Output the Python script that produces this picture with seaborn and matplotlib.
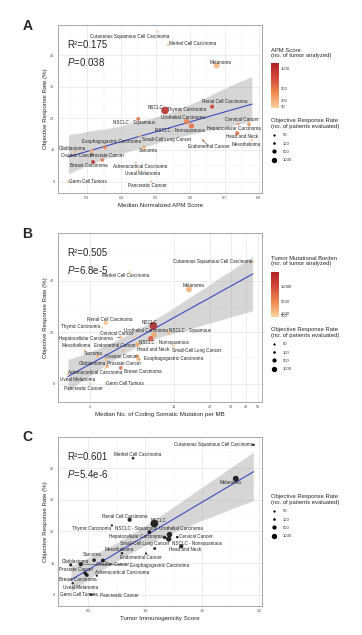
import numpy as np
import pandas as pd
import seaborn as sns
import matplotlib.pyplot as plt
from matplotlib.colors import LinearSegmentedColormap, Normalize
from matplotlib.cm import ScalarMappable
from matplotlib.lines import Line2D
from matplotlib.ticker import MultipleLocator, FixedLocator, NullLocator

# Data
cancers = ["Cutaneous Squamous Cell Carcinoma", "Merkel Cell Carcinoma", "Melanoma", "NSCLC",
           "Thymic Carcinoma", "Renal Cell Carcinoma", "Urothelial Carcinoma", "NSCLC - Squamous",
           "NSCLC - Nonsquamous", "Cervical Cancer", "Hepatocellular Carcinoma", "Head and Neck",
           "Mesothelioma", "Esophagogastric Carcinoma", "Small-Cell Lung Cancer", "Endometrial Cancer",
           "Sarcoma", "Glioblastoma", "Ovarian Cancer", "Prostate Cancer", "Breast Carcinoma",
           "Adrenocortical Carcinoma", "Uveal Melanoma", "Germ Cell Tumors", "Pancreatic Cancer"]
orr = [47.4, 43.2, 36.7, 22.5, 21.9, 23.7, 19.0, 19.8, 17.6, 18.2, 18.1, 15.3, 13.1,
       9.6, 14.6, 13.0, 10.9, 9.4, 10.8, 6.8, 6.2, 6.0, 3.6, 0.0, 0.0]
patients = [60, 100, 1300, 2500, 60, 500, 1100, 400, 1000, 100, 300, 500, 80,
            500, 150, 50, 300, 200, 400, 300, 350, 50, 60, 30, 50]
apm_score = [0.506, 0.536, 0.677, 0.527, 0.570, 0.664, 0.590, 0.449, 0.604, 0.740, 0.771, 0.737, 0.780,
             0.314, 0.454, 0.638, 0.466, 0.265, 0.352, 0.345, 0.318, 0.442, 0.449, 0.246, 0.488]
apm_tumors = [50, 60, 150, 1050, 120, 880, 420, 500, 520, 300, 370, 520, 87,
              180, 80, 550, 260, 160, 420, 500, 1100, 80, 80, 150, 180]
tmb = [45.3, 4.30, 13.3, 6.72, 2.50, 2.70, 6.81, 8.96, 6.40, 4.73, 3.60, 4.98, 1.79,
       5.05, 9.87, 3.78, 2.30, 2.71, 4.95, 2.78, 3.60, 2.65, 1.30, 2.71, 2.0]
tmb_tumors = [300, 200, 2500, 14000, 200, 1500, 3000, 1500, 9000, 800, 1000, 3000, 300,
              2000, 300, 2500, 1800, 1500, 2500, 3000, 7000, 300, 300, 400, 1500]
immuno = [1.95, 0.892, 1.794, 1.079, 0.706, 0.862, 1.212, 1.035, 1.205, 1.28, 1.17, 1.315, 0.795,
          0.433, 1.082, 1.006, 0.55, 0.345, 0.627, 0.471, 0.486, 0.574, 0.362, 0.53, 0.52]

# label placement (ggrepel-like, data coords)
labels_a = [(0.425, 46.0), (0.606, 43.7), (0.689, 37.6), (0.499, 23.5), (0.590, 22.9), (0.700, 25.2),
            (0.578, 20.2), (0.436, 18.6), (0.571, 16.3), (0.751, 19.5), (0.727, 16.9), (0.751, 14.2),
            (0.762, 11.8), (0.372, 12.8), (0.531, 13.4), (0.654, 11.2), (0.477, 9.7), (0.257, 10.5),
            (0.272, 8.4), (0.358, 8.1), (0.306, 5.0), (0.456, 4.9), (0.463, 2.5), (0.302, 0.0), (0.475, -1.1)]
labels_b = [(21.0, 47.4), (3.94, 41.9), (14.5, 38.0), (6.21, 23.8), (1.68, 22.2), (2.91, 25.1),
            (5.79, 20.9), (13.7, 20.7), (8.21, 16.2), (3.33, 19.6), (1.84, 17.7), (6.72, 13.2),
            (1.53, 14.9), (9.87, 9.7), (15.5, 12.9), (3.22, 14.9), (2.13, 11.9), (2.10, 7.8),
            (3.64, 10.6), (3.85, 7.8), (5.46, 5.0), (2.20, 4.4), (1.56, 1.8), (3.93, 0.0), (1.77, -1.7)]
labels_c = [(1.598, 47.5), (0.931, 44.4), (1.75, 35.6), (1.117, 23.5), (0.526, 20.9), (0.821, 24.8),
            (1.313, 20.9), (0.922, 20.9), (1.451, 16.3), (1.441, 18.5), (0.919, 18.5), (1.350, 14.2),
            (0.769, 14.2), (1.126, 9.3), (0.993, 16.3), (0.959, 11.9), (0.534, 12.8), (0.383, 10.5),
            (0.711, 9.5), (0.393, 7.9), (0.407, 4.8), (0.795, 7.0), (0.427, 2.4), (0.420, 0.1), (0.773, -0.4)]

df = pd.DataFrame({"cancer": cancers, "orr": orr, "patients": patients,
                   "apm": apm_score, "apm_n": apm_tumors,
                   "tmb": tmb, "tmb_n": tmb_tumors, "immuno": immuno})

sns.set_theme(style="white")
plt.rcParams["font.family"] = ["Liberation Sans", "DejaVu Sans"]
plt.rcParams["mathtext.fontset"] = "custom"
plt.rcParams["mathtext.rm"] = "Liberation Sans"
plt.rcParams["mathtext.it"] = "Liberation Sans:italic"

W, H = 362, 635
fig = plt.figure(figsize=(W / 100, H / 100), dpi=100)
fig.patch.set_facecolor("white")

cmap = LinearSegmentedColormap.from_list("apm", ["#FDD49E", "#EE8A50", "#D4493A", "#AE2323"])


def fx(px):
    return px / W


def fy(py):
    return 1 - py / H


def dot_size(n):
    # ggplot-like size scale: diameter (pt) grows with sqrt(n)
    return 1.0 + 0.09 * np.sqrt(n)


def draw_panel(ax, xcol, hue_col, vmax, logx, label_pos, seg_names, r2, pval, xlabel):
    if logx:
        ax.set_xscale("log")
    sns.regplot(data=df, x=xcol, y="orr", scatter=False, logx=logx, ci=95, seed=11,
                color="#999999", line_kws={"lw": 0.8}, ax=ax)
    ax.lines[-1].set_color("#3B4BC0")
    ax.collections[-1].set_alpha(0.4)

    pts = df.sort_values("patients", ascending=False)
    if hue_col is not None:
        sns.scatterplot(data=pts, x=xcol, y="orr", hue=hue_col, palette=cmap, hue_norm=(0, vmax),
                        s=dot_size(pts["patients"].values) ** 2, linewidth=0, alpha=0.88,
                        legend=False, ax=ax, zorder=3)
    else:
        sns.scatterplot(data=pts, x=xcol, y="orr", color="#111111",
                        s=dot_size(pts["patients"].values) ** 2, linewidth=0, alpha=0.9,
                        legend=False, ax=ax, zorder=3)

    for name, xv, yv, (lx, ly) in zip(df["cancer"], df[xcol], df["orr"], label_pos):
        if name in seg_names:
            ax.annotate(name, xy=(xv, yv), xytext=(lx, ly), ha="center", va="center",
                        fontsize=3.3, color="#222222", zorder=4,
                        arrowprops=dict(arrowstyle="-", lw=0.35, color="#333333",
                                        shrinkA=0.5, shrinkB=0.5))
        else:
            ax.text(lx, ly, name, ha="center", va="center", fontsize=3.3, color="#222222", zorder=4)

    ax.text(0.043, 0.88, "R\u00b2=" + r2, transform=ax.transAxes, fontsize=7, va="center", ha="left")
    ax.text(0.043, 0.78, "$P$=" + pval, transform=ax.transAxes, fontsize=7, va="center", ha="left")

    ax.set_xlabel(xlabel, fontsize=4.4, labelpad=1.5)
    ax.set_ylabel("Objective Response Rate (%)", fontsize=4.4, labelpad=1.5)
    ax.tick_params(which="major", labelsize=2.7, length=1.5, width=0.4, color="#555555",
                   labelcolor="#4D4D4D", pad=1)
    ax.tick_params(which="minor", length=0)
    ax.set_axisbelow(True)
    ax.grid(which="major", color="#E6E6E6", lw=0.5)
    ax.grid(which="minor", color="#F2F2F2", lw=0.3)
    for sp in ax.spines.values():
        sp.set_color("#9A9A9A")
        sp.set_linewidth(0.6)


def size_legend(top_px):
    handles = [Line2D([], [], marker="o", ls="", color="black", markeredgewidth=0,
                      markersize=dot_size(v)) for v in [50, 100, 500, 1000]]
    leg = fig.legend(handles, ["50", "100", "500", "1000"], loc="upper left",
                     bbox_to_anchor=(fx(271), fy(top_px)), borderaxespad=0, borderpad=0,
                     frameon=False, fontsize=3, title="Objective Response Rate\n(no. of patients evaluated)",
                     title_fontsize=4.2, alignment="left", labelspacing=1.05, handlelength=1.6,
                     handletextpad=1.2)
    return leg


def color_legend(top_px, bar_top, bar_bot, title, vmax, ticks):
    fig.text(fx(271), fy(top_px), title, fontsize=4.2, va="top", ha="left", linespacing=1.0)
    cax = fig.add_axes([fx(271), fy(bar_bot), fx(279) - fx(271), fy(bar_top) - fy(bar_bot)])
    sm = ScalarMappable(norm=Normalize(0, vmax), cmap=cmap)
    cb = fig.colorbar(sm, cax=cax, ticks=ticks)
    cb.outline.set_visible(False)
    cax.tick_params(labelsize=3, length=1.5, width=0.4, color="white", direction="in", pad=1.5)


# Panel A
ax_a = fig.add_axes([fx(58), fy(193), fx(262) - fx(58), fy(25) - fy(193)])
draw_panel(ax_a, "apm", "apm_n", 1130, False, labels_a, {"Endometrial Cancer"},
           "0.175", "0.038", "Median Normalized APM Score")
ax_a.set_xlim(0.216, 0.809)
ax_a.set_ylim(-3.6, 49.5)
ax_a.xaxis.set_major_locator(MultipleLocator(0.1))
ax_a.xaxis.set_minor_locator(MultipleLocator(0.05))
ax_a.yaxis.set_major_locator(MultipleLocator(10))
ax_a.yaxis.set_minor_locator(MultipleLocator(5))
color_legend(48.5, 63, 108, "APM Score\n(no. of tumor analyzed)", 1130, [50, 200, 500, 1000])
size_legend(118)

# Panel B
ax_b = fig.add_axes([fx(58), fy(402), fx(262) - fx(58), fy(233) - fy(402)])
draw_panel(ax_b, "tmb", "tmb_n", 14860, True, labels_b,
           {"Hepatocellular Carcinoma", "Esophagogastric Carcinoma", "NSCLC"},
           "0.505", "6.8e-5", "Median No. of Coding Somatic Mutation per MB")
ax_b.set_xlim(1.08, 54)
ax_b.set_ylim(-7.0, 58.5)
ax_b.xaxis.set_major_locator(FixedLocator([2, 10, 20, 30, 40, 50]))
ax_b.xaxis.set_minor_locator(NullLocator())
ax_b.set_xticklabels(["2", "10", "20", "30", "40", "50"])
ax_b.yaxis.set_major_locator(MultipleLocator(20))
ax_b.yaxis.set_minor_locator(MultipleLocator(10))
color_legend(256.5, 272, 317, "Tumor Mutational Burden\n(no. of tumor analyzed)", 14860,
             [500, 1000, 5000, 10000])
size_legend(327)

# Panel C
ax_c = fig.add_axes([fx(58), fy(606), fx(262) - fx(58), fy(437) - fy(606)])
draw_panel(ax_c, "immuno", None, None, False, labels_c,
           {"Esophagogastric Carcinoma", "Pancreatic Cancer", "Ovarian Cancer"},
           "0.601", "5.4e-6", "Tumor Immunogenicity Score")
ax_c.set_xlim(0.233, 2.024)
ax_c.set_ylim(-3.6, 49.9)
ax_c.xaxis.set_major_locator(MultipleLocator(0.5))
ax_c.xaxis.set_minor_locator(MultipleLocator(0.25))
ax_c.yaxis.set_major_locator(MultipleLocator(10))
ax_c.yaxis.set_minor_locator(MultipleLocator(5))
size_legend(494)

for letter, py in [("A", 25.5), ("B", 234), ("C", 437)]:
    fig.text(fx(27.5), fy(py), letter, fontsize=10, fontweight="bold", ha="center", va="center")

fig.savefig("out.png", dpi=100, facecolor="white")
